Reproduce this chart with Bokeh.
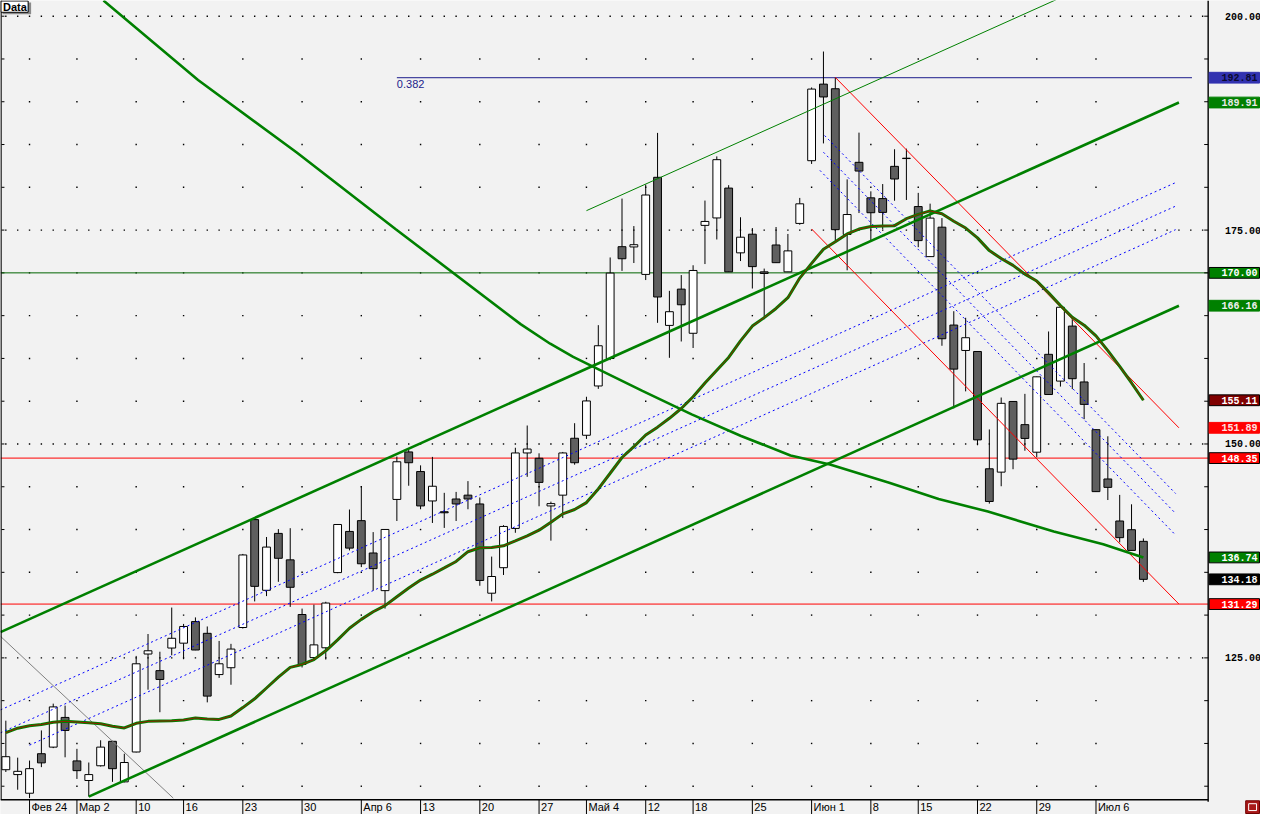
from bokeh.plotting import figure
from bokeh.models import Range1d, ColumnDataSource
from bokeh.core.properties import value
from bokeh.embed import file_html
from bokeh.resources import INLINE

# ---------------- data ----------------
bar_index = list(range(-2, 95))   # trading-day index, 0 = Feb 24
opens = [111.93, 111.36, 109.18, 113.80, 114.57, 118.04, 112.96, 110.67, 112.39, 115.25,
         110.51, 114.00, 125.45, 123.51, 126.15, 126.72, 129.24, 127.87, 123.05, 123.85,
         128.55, 141.16, 132.90, 139.55, 136.46, 130.07, 125.03, 126.18, 134.97, 139.78,
         141.04, 137.26, 132.86, 143.52, 149.07, 146.78, 143.34, 142.08, 143.57, 144.02,
         142.99, 132.56, 135.54, 140.13, 148.95, 148.33, 142.76, 144.02, 150.67, 151.02,
         156.78, 159.99, 173.06, 173.03, 169.82, 181.17, 163.86, 168.10, 162.94, 175.55,
         176.42, 179.91, 172.34, 174.52, 170.12, 173.26, 170.12, 175.78, 183.11, 192.06,
         191.52, 174.49, 182.92, 178.77, 178.68, 182.45, 183.40, 177.75, 171.90, 175.34,
         163.90, 160.93, 160.81, 147.10, 146.71, 154.97, 152.26, 149.04, 160.48, 157.35,
         163.78, 157.25, 151.67, 145.91, 141.00, 139.98, 138.62]
highs = [117.66, 113.34, 113.00, 116.52, 119.65, 119.42, 114.37, 112.77, 115.37, 115.30,
         113.80, 125.23, 127.79, 125.72, 130.88, 128.97, 129.73, 128.67, 126.98, 126.64,
         137.15, 141.46, 139.13, 140.05, 140.16, 130.76, 131.22, 131.56, 140.62, 142.34,
         145.09, 139.70, 140.05, 148.53, 149.37, 147.50, 148.49, 144.29, 144.40, 145.66,
         143.75, 136.84, 140.51, 149.56, 152.16, 148.91, 143.26, 149.07, 152.43, 155.52,
         163.89, 171.80, 178.68, 175.47, 180.32, 186.36, 167.90, 169.74, 170.89, 178.45,
         183.61, 180.25, 176.50, 175.24, 170.50, 175.36, 174.55, 178.76, 191.67, 195.87,
         192.81, 180.93, 186.39, 179.53, 180.38, 184.45, 184.52, 179.35, 178.09, 176.40,
         165.52, 164.75, 160.85, 151.70, 155.43, 155.00, 155.86, 157.88, 163.15, 166.32,
         164.75, 159.46, 151.70, 150.90, 144.05, 142.95, 138.96]
lows = [111.66, 109.59, 108.61, 112.23, 114.45, 113.38, 110.85, 108.79, 112.30, 110.51,
        110.45, 113.95, 121.28, 118.65, 125.30, 124.84, 125.90, 119.80, 122.66, 121.86,
        128.43, 131.60, 132.22, 133.89, 130.96, 123.88, 124.69, 124.80, 134.90, 137.56,
        135.61, 132.86, 130.76, 141.00, 145.12, 142.37, 140.77, 140.19, 141.00, 142.37,
        133.43, 131.60, 134.69, 139.62, 146.16, 142.72, 138.70, 141.34, 147.58, 150.59,
        156.44, 159.80, 170.23, 171.15, 169.16, 164.16, 160.07, 161.98, 161.22, 171.03,
        173.90, 170.10, 171.38, 168.17, 164.58, 171.17, 170.10, 175.62, 182.73, 185.13,
        173.65, 170.30, 176.99, 173.77, 175.12, 178.43, 178.52, 173.00, 171.88, 161.48,
        154.16, 156.15, 149.85, 143.03, 145.06, 147.05, 149.21, 148.45, 155.76, 156.71,
        156.41, 152.90, 144.40, 143.45, 138.50, 137.54, 133.88]
closes = [113.45, 111.74, 112.05, 112.73, 119.27, 116.52, 111.82, 111.36, 114.57, 112.05,
          112.77, 124.31, 125.83, 122.48, 127.29, 128.67, 125.92, 120.53, 124.31, 126.03,
          137.03, 133.36, 137.95, 136.64, 133.25, 124.23, 126.52, 131.41, 140.59, 137.83,
          136.00, 135.43, 140.01, 147.92, 147.81, 142.76, 145.06, 141.96, 142.99, 143.57,
          134.05, 134.51, 140.36, 148.95, 149.41, 145.51, 143.03, 148.95, 147.81, 155.03,
          161.48, 169.97, 171.65, 173.29, 179.10, 167.18, 165.46, 166.27, 170.28, 176.01,
          183.23, 170.12, 174.17, 170.73, 169.93, 171.19, 172.57, 178.07, 191.48, 190.56,
          175.05, 176.82, 181.90, 177.03, 177.07, 180.97, 183.36, 173.77, 176.40, 162.30,
          158.75, 162.42, 150.48, 143.28, 154.75, 148.23, 150.65, 157.85, 155.78, 165.98,
          157.63, 154.63, 144.43, 144.93, 139.05, 137.56, 134.18]
ma_values = [116.26, 116.78, 117.07, 117.21, 117.47, 117.58, 117.50, 117.41, 117.30, 117.01,
             116.81, 117.35, 117.58, 117.62, 117.64, 117.75, 117.98, 117.87, 117.81, 118.21,
             119.19, 120.22, 121.48, 122.74, 123.89, 124.23, 124.80, 125.83, 127.10, 128.47,
             129.50, 130.39, 131.11, 132.14, 133.17, 134.09, 134.78, 135.52, 136.27, 137.41,
             137.87, 137.89, 138.10, 138.67, 139.25, 139.93, 140.85, 141.83, 142.34, 143.15,
             144.75, 146.58, 148.42, 149.68, 151.05, 151.97, 153.00, 154.15, 155.52, 157.13,
             158.62, 160.11, 162.05, 163.78, 164.77, 165.84, 167.10, 169.39, 171.11, 172.77,
             173.63, 174.55, 175.12, 175.41, 175.47, 175.52, 176.33, 176.84, 177.24, 176.90,
             176.04, 175.24, 174.09, 172.60, 171.68, 170.88, 169.85, 169.05, 167.67, 166.18,
             164.81, 163.89, 162.63, 160.91, 159.07, 157.13, 155.11]

tick_index = [0, 4, 9, 13, 18, 23, 28, 33, 38, 43, 47, 52, 56, 61, 66, 71, 75, 80, 85, 90]
tick_labels = ["Фев 24", "Мар 2", "10", "16", "23", "30", "Апр 6", "13", "20", "27",
               "Май 4", "12", "18", "25", "Июн 1", "8", "15", "22", "29", "Июл 6"]
price_ticks = [125, 150, 175, 200]

# trend lines (bar index, price)
upper_channel_x = [-2.45, 97.0]
upper_channel_y = [128.01, 189.91]
lower_channel_x = [5.0, 97.0]
lower_channel_y = [108.79, 166.16]
thin_green_x = [47.0, 90.0]
thin_green_y = [177.27, 204.02]
desc_curve_x = [6.24, 14.22, 22.55, 30.88, 41.44, 43.94, 45.88, 47.55, 51.72, 55.88,
                60.05, 64.22, 67.55, 72.55, 76.72, 80.88, 86.44, 90.61, 94.0]
desc_curve_y = [201.83, 192.55, 184.07, 175.13, 164.01, 161.72, 160.19, 159.04, 156.21, 153.46,
                150.94, 148.66, 147.60, 145.48, 143.58, 142.10, 139.78, 138.29, 136.74]
gray_line_x = [-2.45, 12.13]
gray_line_y = [127.52, 108.61]
reg_top_x = [-2.45, 96.72]
reg_top_y = [118.92, 180.55]
reg_mid_x = [-2.45, 96.72]
reg_mid_y = [116.24, 177.80]
reg_low_x = [0.0, 96.72]
reg_low_y = [114.80, 175.05]
dch_top_x = [67.1, 96.72]
dch_top_y = [186.05, 144.21]
dch_mid_x = [67.0, 96.72]
dch_mid_y = [184.10, 141.88]
dch_low_x = [66.7, 96.72]
dch_low_y = [181.98, 139.35]
red_upper_x = [68.0, 97.0]
red_upper_y = [192.85, 151.89]
red_lower_x = [66.0, 97.0]
red_lower_y = [175.13, 131.29]
fib_level = 192.81
fib_x = [31.0, 98.1]
level_green = 170.00
level_red_hi = 148.35
level_red_lo = 131.29

value_marks = [192.81, 189.91, 170.00, 166.16, 155.11, 151.89, 148.35, 136.74, 134.18, 131.29]
mark_fill = ["#3232b0", "#008000", "#008000", "#008000", "#800000", "#ff0000", "#ff0000",
             "#008000", "#000000", "#ff0000"]
mark_text = ["#0a0a30", "#e8e8e8", "#ffffff", "#f0f0f0", "#ffffff", "#ffe0e0", "#ffffff",
             "#ffffff", "#ffffff", "#ffffff"]
mark_border = ["#3232b0", "#008000", "black", "#008000", "black", "#ff0000", "black",
               "black", "black", "black"]

# ---------------- layout helpers (screen geometry of the original canvas) ----------------
def X(px):          # horizontal canvas pixel -> bar index
    return (px - 29.4) / 12.0


def Y(py):          # vertical canvas pixel -> price
    return 201.834 - py * 0.114626


W, H = 1260, 814
XR = X(1223)        # right edge of the price area
YB = Y(815)         # bottom edge of the price area
BG = "#f2f2f2"
FONT = value("Liberation Sans")
MONO = value("Liberation Mono")

p = figure(width=W, height=H, x_range=Range1d(X(0), X(1276)), y_range=Range1d(Y(830), Y(0)),
           output_backend="svg", toolbar_location=None, x_axis_type=None, y_axis_type=None,
           min_border=0, min_border_left=0, min_border_right=0, min_border_top=0,
           min_border_bottom=0)
p.background_fill_color = BG
p.border_fill_color = BG
p.outline_line_color = None
p.grid.visible = False

# dotted grid
gx, gy = [], []
for lvl in range(110, 201, 5):
    xs = range(-2, 100) if lvl % 25 == 0 else tick_index
    for xv in xs:
        gx.append(xv)
        gy.append(lvl)
p.scatter(gx, gy, marker="square", size=1.4, fill_color="black", line_color=None)
lv = list(range(110, 201, 5))
p.segment(x0=[X(1)] * len(lv), y0=lv, x1=[X(4)] * len(lv), y1=lv, line_color="black", line_width=1)

# horizontal levels
p.segment(x0=[X(0)] * 3, y0=[level_green, level_red_hi, level_red_lo], x1=[XR] * 3,
          y1=[level_green, level_red_hi, level_red_lo],
          line_color=["#006400", "#ff0000", "#ff0000"], line_width=1)
p.line(fib_x, [fib_level, fib_level], line_color="#1c1c8c", line_width=1)
p.text(x=[fib_x[0]], y=[Y(81)], text=["0.382"], text_baseline="top", text_font=FONT,
       text_font_size="11px", text_color="#1c1c8c")

# candles
tops = [max(o, c) for o, c in zip(opens, closes)]
bots = [min(o, c) for o, c in zip(opens, closes)]
fills = ["#ffffff" if c >= o else "#5f5f5f" for o, c in zip(opens, closes)]
src = ColumnDataSource(dict(x=bar_index, h=highs, l=lows, top=tops, bottom=bots, fill=fills))
p.segment(x0="x", y0="h", x1="x", y1="l", source=src, line_color="black", line_width=1)
p.vbar(x="x", top="top", bottom="bottom", width=0.66, fill_color="fill",
       line_color="black", line_width=1, source=src)

# trend lines
p.line(gray_line_x, gray_line_y, line_color="#808080", line_width=1)
for lx_, ly_ in [(reg_top_x, reg_top_y), (reg_mid_x, reg_mid_y), (reg_low_x, reg_low_y),
                 (dch_top_x, dch_top_y), (dch_mid_x, dch_mid_y), (dch_low_x, dch_low_y)]:
    p.line(lx_, ly_, line_color="#0000ff", line_width=1, line_dash="2 3")
p.line(red_upper_x, red_upper_y, line_color="#ff0000", line_width=1)
p.line(red_lower_x, red_lower_y, line_color="#ff0000", line_width=1)
p.line(thin_green_x, thin_green_y, line_color="#008000", line_width=1)
p.line(upper_channel_x, upper_channel_y, line_color="#008000", line_width=2.6)
p.line(lower_channel_x, lower_channel_y, line_color="#008000", line_width=2.6)
p.line(desc_curve_x, desc_curve_y, line_color="#008000", line_width=2.6)
p.line(bar_index, ma_values, line_color="#008000", line_width=3)
p.line(bar_index, ma_values, line_color="#c00000", line_width=0.8)

# covers for the scale strips (keep lines out of them)
p.quad(left=[XR], right=[X(1276)], bottom=[Y(830)], top=[Y(0)], fill_color=BG, line_color=None)
p.quad(left=[X(0)], right=[X(1276)], bottom=[Y(830)], top=[YB], fill_color=BG, line_color=None)

# frame borders
p.segment(x0=[X(0.5), XR, X(0)], y0=[Y(0), Y(0), YB], x1=[X(0.5), XR, XR], y1=[YB, Y(817), YB],
          line_color="black", line_width=1.4)

# price scale: ticks, labels
p.segment(x0=[X(1219)] * len(lv), y0=lv, x1=[XR] * len(lv), y1=lv, line_color="black",
          line_width=1)
p.text(x=[X(1240)] * len(price_ticks), y=price_ticks, text=["%.2f" % t for t in price_ticks],
       text_baseline="middle", text_align="left", text_font=MONO, text_font_style="bold",
       text_font_size="10px", text_color="black")

# value marks
p.rect(x=[X(1249.5)] * len(value_marks), y=value_marks, width=51 / 12.0,
       height=11 * 0.114626, fill_color=mark_fill, line_color=mark_border, line_width=1)
p.text(x=[X(1273)] * len(value_marks), y=value_marks, text=["%.2f" % v for v in value_marks],
       text_baseline="middle", text_align="right", text_font=MONO, text_font_style="bold",
       text_font_size="10px", text_color=mark_text)

# date scale
p.segment(x0=tick_index, y0=[YB] * len(tick_index), x1=tick_index, y1=[Y(830)] * len(tick_index),
          line_color="black", line_width=1)
p.text(x=[t + 2 / 12.0 for t in tick_index], y=[Y(822)] * len(tick_index), text=tick_labels,
       text_baseline="middle", text_align="left", text_font=FONT, text_font_size="11px",
       text_color="black")

# "Data" tag
p.quad(left=[X(2)], right=[X(31)], top=[Y(2)], bottom=[Y(14)], fill_color="#8a8a8a",
       line_color=None)
p.quad(left=[X(0.5)], right=[X(28)], top=[Y(0.5)], bottom=[Y(12)], fill_color="white",
       line_color="black", line_width=1)
p.text(x=[X(2.5)], y=[Y(6.5)], text=["Data"], text_baseline="middle", text_font=FONT,
       text_font_style="bold", text_font_size="11px", text_color="black")

# corner button
p.quad(left=[X(1261)], right=[X(1275)], top=[Y(816)], bottom=[Y(829)], fill_color="#a81818",
       line_color="#700000", line_width=1)
p.quad(left=[X(1264)], right=[X(1272)], top=[Y(819)], bottom=[Y(826)], fill_color=None,
       line_color="white", line_width=1)

with open("out.html", "w", encoding="utf-8") as f:
    f.write(file_html(p, INLINE))
